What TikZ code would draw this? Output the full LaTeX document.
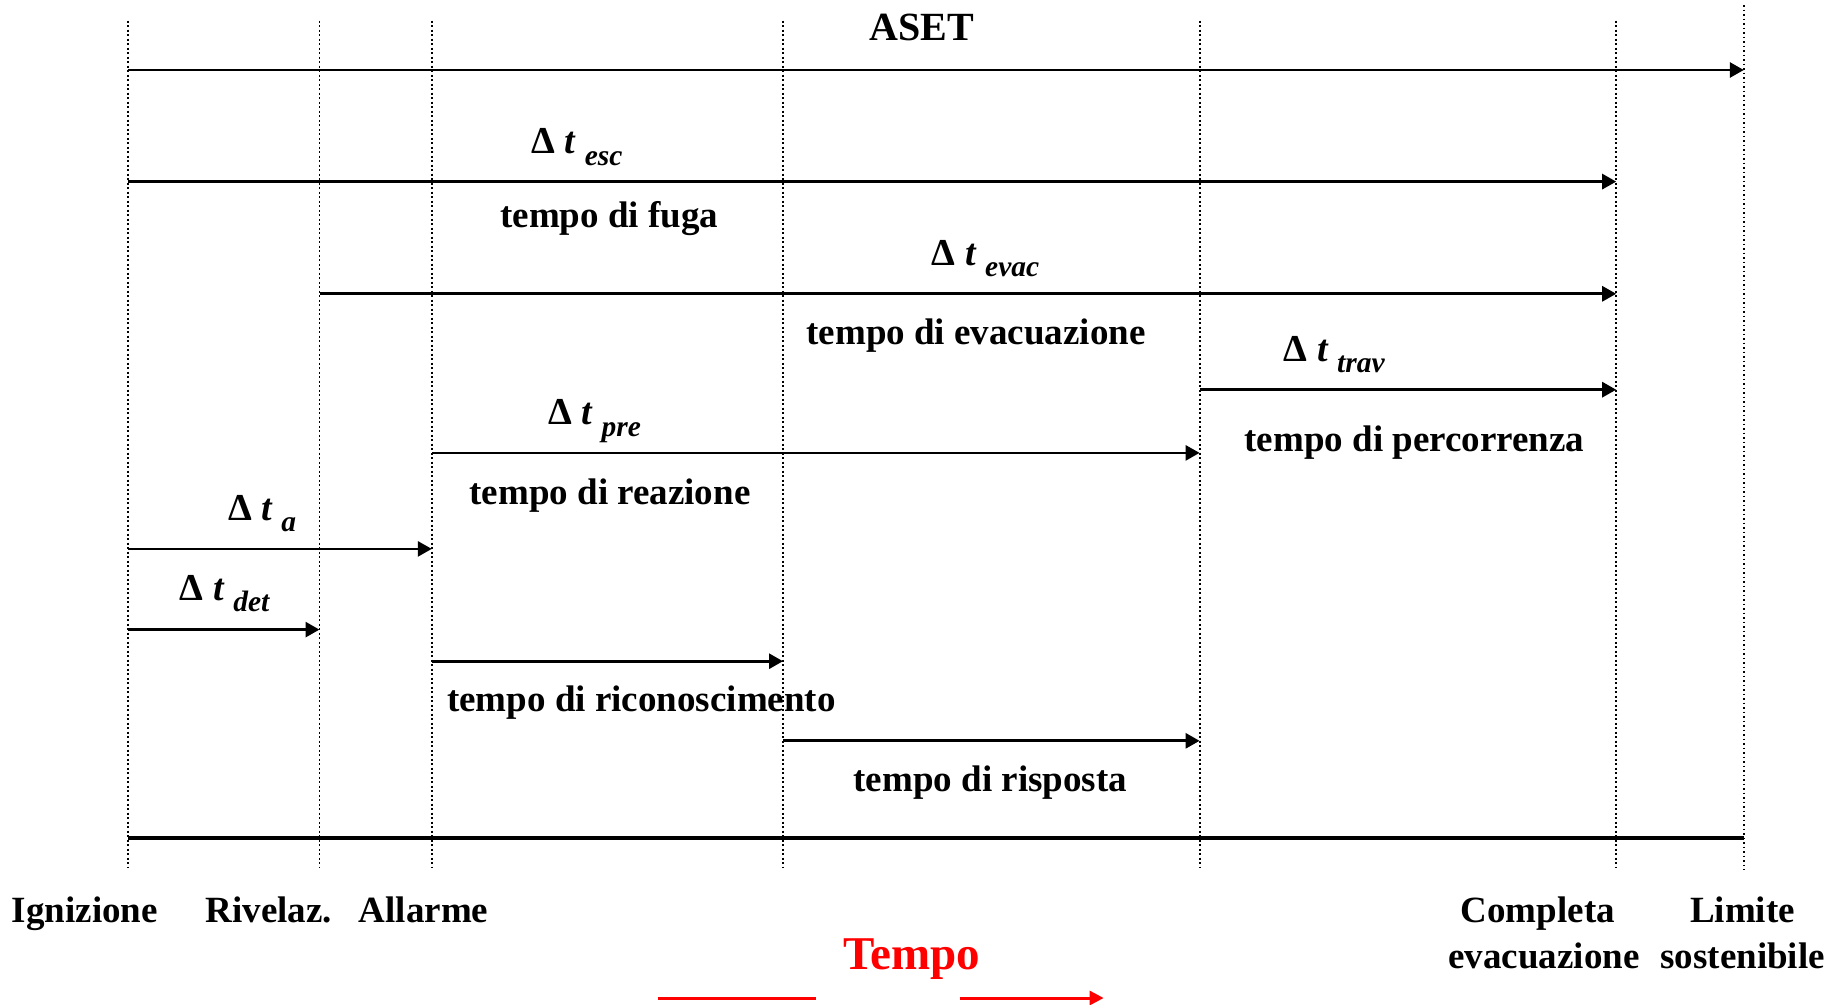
\documentclass[tikz,border=0pt]{standalone}
\usepackage{fontspec}
\setmainfont{Liberation Serif}
\usetikzlibrary{arrows.meta}
\newcommand{\dtlab}[1]{Δ {\itshape t} \raisebox{-11.7pt}{\fontsize{29.5}{31}\selectfont\itshape #1}}
\begin{document}
\begin{tikzpicture}[x=1pt,y=-1pt,
  evline/.style={line width=1.9pt, dash pattern=on 1.9pt off 2.6pt},
  arr/.style={line width=2.8pt, -{Triangle[length=14pt,width=15pt]}},
  lbl/.style={font=\fontsize{37}{40}\selectfont\bfseries, inner sep=0pt, anchor=base},
  dt/.style={font=\fontsize{38}{40}\selectfont\bfseries, inner sep=0pt, anchor=base west},
]
\useasboundingbox (0,0) rectangle (1835,1004);

% event lines
\coordinate (igT) at (127.6,20.7);  \coordinate (igB) at (127.6,868.4);
\coordinate (riT) at (319.5,20.7);  \coordinate (riB) at (319.5,868.4);
\coordinate (alT) at (431.8,20.7);  \coordinate (alB) at (431.8,868.4);
\coordinate (rcT) at (783,20.7);    \coordinate (rcB) at (783,868.4);
\coordinate (rsT) at (1199.6,20.7); \coordinate (rsB) at (1199.6,868.4);
\coordinate (ceT) at (1616.2,20.7); \coordinate (ceB) at (1616.2,868.4);
\coordinate (liT) at (1743.8,5);    \coordinate (liB) at (1743.8,870);

\foreach \n in {ig,ri,al,rc,rs,ce,li} \draw[evline] (\n T) -- (\n B);

% rows
\coordinate (rAset) at (0,70);
\coordinate (rEsc) at (0,181.6);
\coordinate (rEvac) at (0,293.8);
\coordinate (rTrav) at (0,389.7);
\coordinate (rPre) at (0,452.9);
\coordinate (rA) at (0,548.9);
\coordinate (rDet) at (0,629.6);
\coordinate (rRic) at (0,661.2);
\coordinate (rRis) at (0,740.8);
\coordinate (rBot) at (0,837.8);

\draw[arr] (igT |- rAset) -- (liT |- rAset);
\draw[arr] (igT |- rEsc) -- (ceT |- rEsc);
\draw[arr] (riT |- rEvac) -- (ceT |- rEvac);
\draw[arr] (rsT |- rTrav) -- (ceT |- rTrav);
\draw[arr] (alT |- rPre) -- (rsT |- rPre);
\draw[arr] (igT |- rA) -- (alT |- rA);
\draw[arr] (igT |- rDet) -- (riT |- rDet);
\draw[arr] (alT |- rRic) -- (rcT |- rRic);
\draw[arr] (rcT |- rRis) -- (rsT |- rRis);
\draw[line width=3.4pt] (igT |- rBot) -- (liT |- rBot);

% titles
\node[lbl, font=\fontsize{40}{42}\selectfont\bfseries] (aset) at (922,40.7) {ASET};

\node[dt] (dtesc) at (531.3,153.3) {\dtlab{esc}};
\node[dt] (dtevac) at (931.6,265) {\dtlab{evac}};
\node[dt] (dttrav) at (1283.5,361) {\dtlab{trav}};
\node[dt] (dtpre) at (548,424.3) {\dtlab{pre}};
\node[dt] (dta) at (227.9,520) {\dtlab{a}};
\node[dt] (dtdet) at (179.7,600) {\dtlab{det}};

\node[lbl] (fuga) at (609.3,227.7) {tempo di fuga};
\node[lbl] (evac) at (976,344.5) {tempo di evacuazione};
\node[lbl] (perc) at (1414.5,451.7) {tempo di percorrenza};
\node[lbl] (reaz) at (610,504.3) {tempo di reazione};
\node[lbl] (ricon) at (641.4,711.7) {tempo di riconoscimento};
\node[lbl] (risp) at (990.3,791.7) {tempo di risposta};

\node[lbl] (lig) at (84.8,922.7) {Ignizione};
\node[lbl] (lri) at (268.8,922.7) {Rivelaz.};
\node[lbl] (lal) at (423.6,922.7) {Allarme};
\node[lbl] (lce1) at (1537.8,922.7) {Completa};
\node[lbl] (lce2) at (1544,968.3) {evacuazione};
\node[lbl] (lli1) at (1742.5,922.7) {Limite};
\node[lbl] (lli2) at (1742.6,968.3) {sostenibile};

\node[lbl, text=red, font=\fontsize{47}{50}\selectfont\bfseries] (tempo) at (911.6,969) {Tempo};
\coordinate (tA1) at (657.7,998); \coordinate (tA2) at (815.7,998);
\coordinate (tB1) at (959.6,998); \coordinate (tB2) at (1103.6,998);
\draw[red, line width=3pt] (tA1) -- (tA2);
\draw[red, line width=3pt, -{Triangle[length=14pt,width=14pt]}] (tB1) -- (tB2);
\end{tikzpicture}
\end{document}
